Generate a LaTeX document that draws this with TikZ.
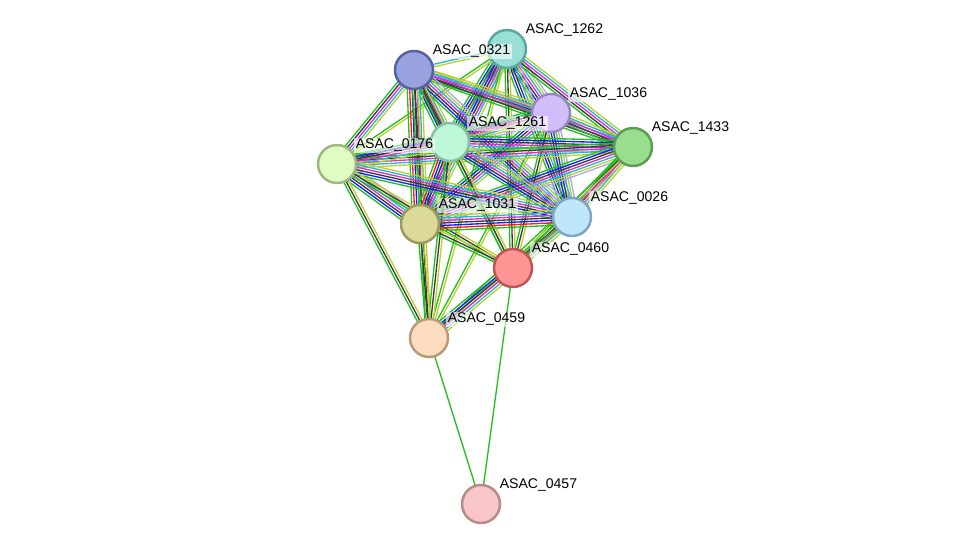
\documentclass[tikz,border=0pt]{standalone}
\usepackage{fontspec}
\setmainfont{Liberation Sans}
\usepackage{tikz}
\usetikzlibrary{calc,backgrounds}
% evidence channels
\definecolor{nbh}{HTML}{20C020}
\definecolor{fus}{HTML}{FF1A1A}
\definecolor{coc}{HTML}{1A1AFF}
\definecolor{cex}{HTML}{3A3A3A}
\definecolor{exm}{HTML}{D630D6}
\definecolor{dbs}{HTML}{2BB5DA}
\definecolor{txm}{HTML}{BCD02C}
\definecolor{hom}{HTML}{A8A8F8}
% protein fill / rim
\definecolor{f1262}{HTML}{99DFD5}\definecolor{r1262}{HTML}{5BA89E}
\definecolor{f0321}{HTML}{98A2DF}\definecolor{r0321}{HTML}{56619E}
\definecolor{f1036}{HTML}{D0BEFA}\definecolor{r1036}{HTML}{9A86C4}
\definecolor{f1433}{HTML}{99DD8F}\definecolor{r1433}{HTML}{5C9C54}
\definecolor{f1261}{HTML}{BDF8D9}\definecolor{r1261}{HTML}{86C29E}
\definecolor{f0176}{HTML}{E0FBC3}\definecolor{r0176}{HTML}{9DB87E}
\definecolor{f1031}{HTML}{DCDA98}\definecolor{r1031}{HTML}{9C9A5C}
\definecolor{f0026}{HTML}{C0E6FA}\definecolor{r0026}{HTML}{7EA6BE}
\definecolor{f0460}{HTML}{FE9494}\definecolor{r0460}{HTML}{BF5454}
\definecolor{f0459}{HTML}{FDDDC0}\definecolor{r0459}{HTML}{B89A78}
\definecolor{f0457}{HTML}{F8C6C8}\definecolor{r0457}{HTML}{B88A8A}
% one line per channel, side by side, centred on the link
\newcommand\edgebundle[3]{%
  \foreach \c [count=\k] in {#3} {\xdef\nlines{\k}}%
  \foreach \c [count=\i] in {#3} {%
    \pgfmathsetmacro\off{(\i-(\nlines+1)/2)*0.05}%
    \draw[link,draw=\c] ($(#1)!\off cm!90:(#2)$) -- ($(#2)!\off cm!-90:(#1)$);
  }%
}

\begin{document}
\begin{tikzpicture}[x=0.02cm,y=-0.02cm,font=\fontsize{8}{9.6}\selectfont,prot/.style={circle,minimum size=0.76cm,inner sep=0pt,line width=1.4pt},lbl/.style={anchor=base west,fill=white,fill opacity=0.6,text opacity=1,inner sep=0.8pt},link/.style={line width=0.75pt}]
\useasboundingbox (0,0) rectangle (975,550);
\node[prot,draw=r1262,fill=f1262] (n1262) at (507,49) {};
\node[prot,draw=r0321,fill=f0321] (n0321) at (414,70) {};
\node[prot,draw=r1036,fill=f1036] (n1036) at (551,113) {};
\node[prot,draw=r1433,fill=f1433] (n1433) at (633,147) {};
\node[prot,draw=r1261,fill=f1261] (n1261) at (450,142) {};
\node[prot,draw=r0176,fill=f0176] (n0176) at (337,164) {};
\node[prot,draw=r1031,fill=f1031] (n1031) at (420,224) {};
\node[prot,draw=r0026,fill=f0026] (n0026) at (572,217) {};
\node[prot,draw=r0460,fill=f0460] (n0460) at (513,268) {};
\node[prot,draw=r0459,fill=f0459] (n0459) at (429,338) {};
\node[prot,draw=r0457,fill=f0457] (n0457) at (481,504) {};
\node[lbl] (t1262) at ([shift={(17,-15)}]n1262.center) {ASAC\_1262};
\node[lbl] (t0321) at ([shift={(17,-15)}]n0321.center) {ASAC\_0321};
\node[lbl] (t1036) at ([shift={(17,-15)}]n1036.center) {ASAC\_1036};
\node[lbl] (t1433) at ([shift={(17,-15)}]n1433.center) {ASAC\_1433};
\node[lbl] (t1261) at ([shift={(17,-15)}]n1261.center) {ASAC\_1261};
\node[lbl] (t0176) at ([shift={(17,-15)}]n0176.center) {ASAC\_0176};
\node[lbl] (t1031) at ([shift={(17,-15)}]n1031.center) {ASAC\_1031};
\node[lbl] (t0026) at ([shift={(17,-15)}]n0026.center) {ASAC\_0026};
\node[lbl] (t0460) at ([shift={(17,-15)}]n0460.center) {ASAC\_0460};
\node[lbl] (t0459) at ([shift={(17,-15)}]n0459.center) {ASAC\_0459};
\node[lbl] (t0457) at ([shift={(17,-15)}]n0457.center) {ASAC\_0457};
\begin{pgfonlayer}{background}
\fill[white] (0,0) rectangle (975,550);
\edgebundle{n1262}{n0321}{dbs,txm}
\edgebundle{n1262}{n1036}{nbh,coc,cex,exm,dbs,txm,hom}
\edgebundle{n1262}{n1433}{nbh,cex,exm,dbs,txm}
\edgebundle{n1262}{n1261}{nbh,coc,cex,exm,dbs,txm,hom}
\edgebundle{n1262}{n0176}{nbh,txm}
\edgebundle{n1262}{n1031}{nbh,coc,cex,exm,dbs,txm}
\edgebundle{n1262}{n0026}{nbh,coc,cex,dbs,txm,hom}
\edgebundle{n1262}{n0460}{nbh,cex,txm}
\edgebundle{n1262}{n0459}{nbh,txm}
\edgebundle{n0321}{n1036}{nbh,cex,exm,dbs,txm}
\edgebundle{n0321}{n1433}{nbh,cex,exm,dbs,txm}
\edgebundle{n0321}{n1261}{nbh,coc,cex,exm,dbs,txm}
\edgebundle{n0321}{n0176}{nbh,cex,exm,dbs,txm}
\edgebundle{n0321}{n1031}{nbh,fus,coc,cex,exm,dbs,txm}
\edgebundle{n0321}{n0026}{nbh,coc,cex,exm,dbs,txm,hom}
\edgebundle{n0321}{n0460}{nbh,cex,txm}
\edgebundle{n0321}{n0459}{nbh,cex,txm}
\edgebundle{n1036}{n1433}{nbh,cex,exm,dbs,txm}
\edgebundle{n1036}{n1261}{nbh,coc,cex,exm,dbs,txm,hom}
\edgebundle{n1036}{n0176}{nbh,cex,exm,txm}
\edgebundle{n1036}{n1031}{nbh,coc,cex,exm,dbs,txm}
\edgebundle{n1036}{n0026}{nbh,coc,cex,dbs,txm,hom}
\edgebundle{n1036}{n0460}{nbh,cex,txm}
\edgebundle{n1036}{n0459}{nbh,txm}
\edgebundle{n1433}{n1261}{nbh,coc,cex,exm,dbs,txm}
\edgebundle{n1433}{n0176}{nbh,cex,exm,dbs,txm}
\edgebundle{n1433}{n1031}{nbh,coc,cex,exm,dbs,txm,hom}
\edgebundle{n1433}{n0026}{nbh,cex,exm,dbs,txm}
\edgebundle{n1433}{n0460}{nbh,cex,exm,txm}
\edgebundle{n1433}{n0459}{nbh,txm}
\edgebundle{n1261}{n0176}{nbh,coc,cex,exm,dbs,txm}
\edgebundle{n1261}{n1031}{nbh,fus,coc,cex,exm,dbs,txm}
\edgebundle{n1261}{n0026}{nbh,coc,cex,exm,dbs,txm,hom}
\edgebundle{n1261}{n0460}{nbh,cex,txm}
\edgebundle{n1261}{n0459}{nbh,cex,txm}
\edgebundle{n0176}{n1031}{nbh,coc,cex,exm,dbs,txm,hom}
\edgebundle{n0176}{n0026}{nbh,coc,cex,exm,dbs,txm}
\edgebundle{n0176}{n0460}{nbh,cex,txm}
\edgebundle{n0176}{n0459}{nbh,cex,txm}
\edgebundle{n1031}{n0026}{nbh,fus,coc,cex,exm,dbs,txm}
\edgebundle{n1031}{n0460}{nbh,cex,txm}
\edgebundle{n1031}{n0459}{nbh,cex,txm}
\edgebundle{n0026}{n0460}{nbh,cex,exm,dbs,txm}
\edgebundle{n0026}{n0459}{nbh,txm}
\edgebundle{n0460}{n0459}{nbh,coc,cex,exm,dbs,txm}
\edgebundle{n0460}{n0457}{nbh}
\edgebundle{n0459}{n0457}{nbh}
\end{pgfonlayer}
\end{tikzpicture}
\end{document}
